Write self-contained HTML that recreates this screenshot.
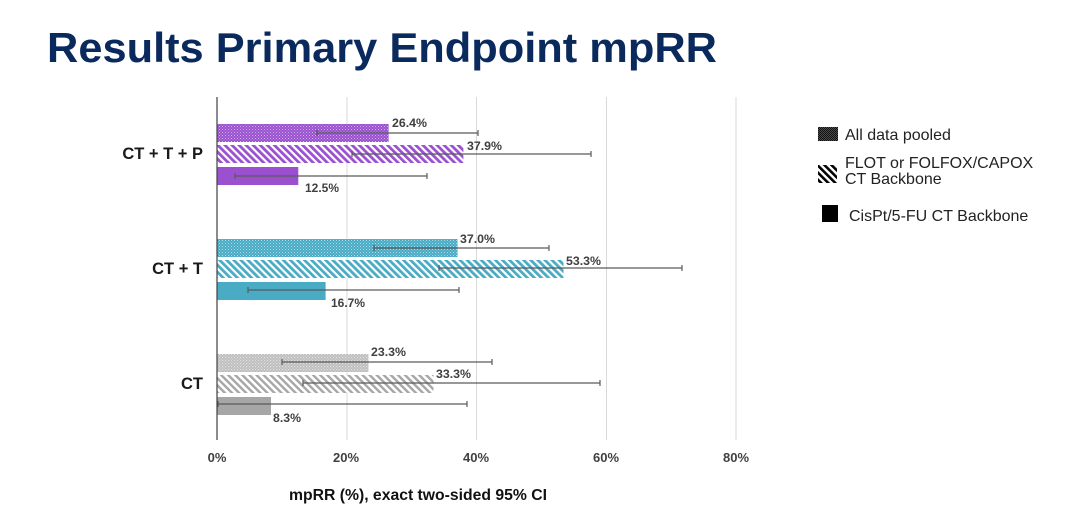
<!DOCTYPE html>
<html>
<head>
<meta charset="utf-8">
<style>
  html, body { margin:0; padding:0; background:#ffffff; }
  body { width:1080px; height:521px; overflow:hidden; }
  svg { display:block; }
  text { font-family:"Liberation Sans", Arial, sans-serif; }
</style>
</head>
<body>
<svg width="1080" height="521" viewBox="0 0 1080 521" xmlns="http://www.w3.org/2000/svg">
  <defs>
    <pattern id="pdP" patternUnits="userSpaceOnUse" width="3" height="3">
      <rect width="3" height="3" fill="#9a50cf"/>
      <rect x="0" y="0" width="1" height="1" fill="#d2b2ee"/>
      <rect x="1.5" y="1.5" width="1" height="1" fill="#c29ce8"/>
    </pattern>
    <pattern id="pdC" patternUnits="userSpaceOnUse" width="3" height="3">
      <rect width="3" height="3" fill="#4aabc5"/>
      <rect x="0" y="0" width="1" height="1" fill="#abdbe8"/>
      <rect x="1.5" y="1.5" width="1" height="1" fill="#93cfdf"/>
    </pattern>
    <pattern id="pdG" patternUnits="userSpaceOnUse" width="3" height="3">
      <rect width="3" height="3" fill="#bcbcbc"/>
      <rect x="0" y="0" width="1.2" height="1.2" fill="#e2e2e2"/>
      <rect x="1.5" y="1.5" width="1.2" height="1.2" fill="#dadada"/>
    </pattern>
    <pattern id="pdK" patternUnits="userSpaceOnUse" width="2" height="2">
      <rect width="2" height="2" fill="#4a4a4a"/>
      <rect x="0" y="0" width="1" height="1" fill="#111"/>
      <rect x="1" y="1" width="1" height="1" fill="#111"/>
    </pattern>
    <pattern id="hP" patternUnits="userSpaceOnUse" width="5" height="5" patternTransform="rotate(-45)">
      <rect width="5" height="5" fill="#ffffff"/>
      <rect width="2.8" height="5" fill="#9a50cf"/>
    </pattern>
    <pattern id="hC" patternUnits="userSpaceOnUse" width="5" height="5" patternTransform="rotate(-45)">
      <rect width="5" height="5" fill="#ffffff"/>
      <rect width="2.8" height="5" fill="#4aabc5"/>
    </pattern>
    <pattern id="hG" patternUnits="userSpaceOnUse" width="5" height="5" patternTransform="rotate(-45)">
      <rect width="5" height="5" fill="#ffffff"/>
      <rect width="2.4" height="5" fill="#a6a6a6"/>
    </pattern>
    <pattern id="hK" patternUnits="userSpaceOnUse" width="5" height="5" patternTransform="rotate(-45)">
      <rect width="5" height="5" fill="#ffffff"/>
      <rect width="2.6" height="5" fill="#000000"/>
    </pattern>
  </defs>

  <!-- Title -->
  <text x="47" y="62" font-size="42" font-weight="bold" fill="#0a2a5e" textLength="670" lengthAdjust="spacingAndGlyphs">Results Primary Endpoint mpRR</text>

  <!-- gridlines -->
  <g stroke="#d9d9d9" stroke-width="1">
    <line x1="347" y1="97" x2="347" y2="440"/>
    <line x1="476.5" y1="97" x2="476.5" y2="440"/>
    <line x1="606.5" y1="97" x2="606.5" y2="440"/>
    <line x1="736" y1="97" x2="736" y2="440"/>
  </g>

  <!-- Bars: group CT+T+P -->
  <rect x="217" y="124" width="171.6" height="18" fill="url(#pdP)"/>
  <rect x="217" y="145" width="246.4" height="18" fill="url(#hP)"/>
  <rect x="217" y="167" width="81.3" height="18" fill="#9a50cf"/>

  <!-- Bars: group CT+T -->
  <rect x="217" y="239" width="240.5" height="18" fill="url(#pdC)"/>
  <rect x="217" y="260" width="346.5" height="18" fill="url(#hC)"/>
  <rect x="217" y="282" width="108.6" height="18" fill="#4aabc5"/>

  <!-- Bars: group CT -->
  <rect x="217" y="354" width="151.5" height="18" fill="url(#pdG)"/>
  <rect x="217" y="375" width="216.5" height="18" fill="url(#hG)"/>
  <rect x="217" y="397" width="54" height="18" fill="#a6a6a6"/>

  <!-- Error bars -->
  <g stroke="#5a5a5a" stroke-width="1.2" fill="none">
    <line x1="317" y1="133" x2="478" y2="133"/><line x1="317" y1="130" x2="317" y2="136"/><line x1="478" y1="130" x2="478" y2="136"/>
    <line x1="352" y1="154" x2="591" y2="154"/><line x1="352" y1="151" x2="352" y2="157"/><line x1="591" y1="151" x2="591" y2="157"/>
    <line x1="235" y1="176" x2="427" y2="176"/><line x1="235" y1="173" x2="235" y2="179"/><line x1="427" y1="173" x2="427" y2="179"/>
    <line x1="374" y1="248" x2="549" y2="248"/><line x1="374" y1="245" x2="374" y2="251"/><line x1="549" y1="245" x2="549" y2="251"/>
    <line x1="439" y1="268" x2="682" y2="268"/><line x1="439" y1="265" x2="439" y2="271"/><line x1="682" y1="265" x2="682" y2="271"/>
    <line x1="248" y1="290" x2="459" y2="290"/><line x1="248" y1="287" x2="248" y2="293"/><line x1="459" y1="287" x2="459" y2="293"/>
    <line x1="282" y1="362" x2="492" y2="362"/><line x1="282" y1="359" x2="282" y2="365"/><line x1="492" y1="359" x2="492" y2="365"/>
    <line x1="303" y1="383" x2="600" y2="383"/><line x1="303" y1="380" x2="303" y2="386"/><line x1="600" y1="380" x2="600" y2="386"/>
    <line x1="218" y1="404" x2="467" y2="404"/><line x1="218" y1="401" x2="218" y2="407"/><line x1="467" y1="401" x2="467" y2="407"/>
  </g>

  <!-- Axis line -->
  <line x1="217" y1="97" x2="217" y2="440" stroke="#404040" stroke-width="1.2"/>

  <!-- Data labels -->
  <g font-size="12" font-weight="bold" fill="#404040">
    <text x="392" y="127" textLength="35" lengthAdjust="spacingAndGlyphs">26.4%</text>
    <text x="467" y="150" textLength="35" lengthAdjust="spacingAndGlyphs">37.9%</text>
    <text x="305" y="192" textLength="34" lengthAdjust="spacingAndGlyphs">12.5%</text>
    <text x="460" y="243" textLength="35" lengthAdjust="spacingAndGlyphs">37.0%</text>
    <text x="566" y="265" textLength="35" lengthAdjust="spacingAndGlyphs">53.3%</text>
    <text x="331" y="307" textLength="34" lengthAdjust="spacingAndGlyphs">16.7%</text>
    <text x="371" y="356" textLength="35" lengthAdjust="spacingAndGlyphs">23.3%</text>
    <text x="436" y="378" textLength="35" lengthAdjust="spacingAndGlyphs">33.3%</text>
    <text x="273" y="422" textLength="28" lengthAdjust="spacingAndGlyphs">8.3%</text>
  </g>

  <!-- Category labels -->
  <g font-size="16.5" font-weight="bold" fill="#1a1a1a" text-anchor="end">
    <text x="203" y="159">CT + T + P</text>
    <text x="203" y="274">CT + T</text>
    <text x="203" y="389">CT</text>
  </g>

  <!-- Tick labels -->
  <g font-size="13" font-weight="bold" fill="#404040" text-anchor="middle">
    <text x="217" y="462">0%</text>
    <text x="346" y="462">20%</text>
    <text x="476" y="462">40%</text>
    <text x="606" y="462">60%</text>
    <text x="736" y="462">80%</text>
  </g>

  <!-- Axis title -->
  <text x="289" y="500" font-size="16" font-weight="bold" fill="#111" textLength="258" lengthAdjust="spacingAndGlyphs">mpRR (%), exact two-sided 95% CI</text>

  <!-- Legend -->
  <rect x="818" y="127" width="20" height="14" fill="url(#pdK)"/>
  <text x="845" y="140" font-size="16" fill="#222">All data pooled</text>

  <rect x="818" y="165" width="19" height="18" fill="url(#hK)"/>
  <text x="845" y="168" font-size="16" fill="#222">FLOT or FOLFOX/CAPOX</text>
  <text x="845" y="184" font-size="16" fill="#222">CT Backbone</text>

  <rect x="822" y="205" width="16" height="17" fill="#000000"/>
  <text x="849" y="221" font-size="16" fill="#222">CisPt/5-FU CT Backbone</text>
</svg>
</body>
</html>
